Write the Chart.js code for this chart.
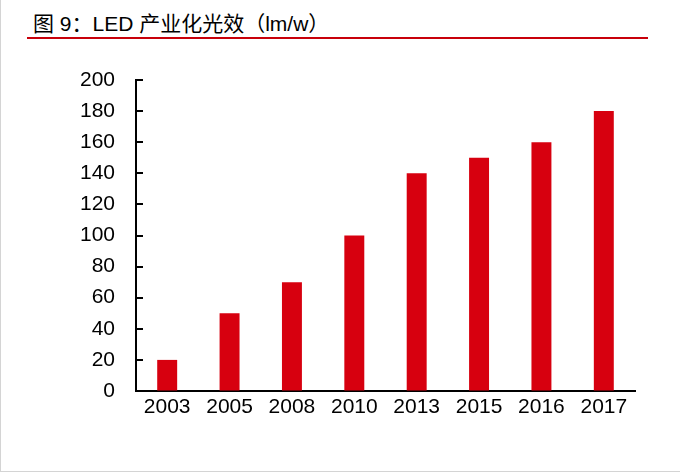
<!DOCTYPE html>
<html>
<head>
<meta charset="utf-8">
<script src="https://cdn.jsdelivr.net/npm/chart.js@4"></script>
<style>
    body { margin: 0; background: #fff; }
    #wrap { position: relative; width: 680px; height: 473px; overflow: hidden; }
    #frame { position: absolute; left: 0; top: 0; width: 679px; height: 471px; border-left: 1px solid #d4d4d4; border-bottom: 1px solid #d4d4d4; }
    #title { position: absolute; left: 33px; top: 13px; font: 21px/21px "Liberation Sans", "Noto Sans CJK SC", sans-serif; color: #000; white-space: nowrap; }
    #rule { position: absolute; left: 27px; top: 37px; width: 621px; height: 2px; background: #c8000a; }
    #box { position: absolute; left: 0; top: 0; width: 680px; height: 473px; }
</style>
</head>
<body>
<div id="wrap">
    <div id="frame"></div>
    <div id="title">图 9：LED 产业化光效（lm/w）</div>
    <div id="rule"></div>
    <div id="box"><canvas id="ledChart"></canvas></div>
</div>
<script>
var years = ['2003', '2005', '2008', '2010', '2013', '2015', '2016', '2017'];
var efficacy = [20, 50, 70, 100, 140, 150, 160, 180];
var yTicks = [0, 20, 40, 60, 80, 100, 120, 140, 160, 180, 200];

// short tick marks pointing into the plot, like the original
var innerTicks = {
    id: 'innerTicks',
    afterDatasetsDraw: function(chart) {
        var y = chart.scales.y;
        var ctx = chart.ctx;
        ctx.save();
        ctx.strokeStyle = '#000';
        ctx.lineWidth = 2;
        y.ticks.forEach(function(t, i) {
            var py = Math.round(y.getPixelForTick(i));
            ctx.beginPath();
            ctx.moveTo(y.right, py);
            ctx.lineTo(y.right + 7, py);
            ctx.stroke();
        });
        ctx.restore();
    }
};

var ledChart = new Chart(document.getElementById('ledChart'), {
    type: 'bar',
    data: {
        labels: years,
        datasets: [{
            data: efficacy,
            backgroundColor: '#d7000f',
            barPercentage: 0.32,
            categoryPercentage: 1
        }]
    },
    options: {
        responsive: true,
        maintainAspectRatio: false,
        animation: false,
        layout: { padding: { left: 0, right: 45, top: 80, bottom: 0 } },
        plugins: {
            legend: { display: false },
            tooltip: { enabled: false }
        },
        scales: {
            x: {
                grid: { display: true, drawOnChartArea: false, drawTicks: false },
                border: { color: '#000', width: 2 },
                ticks: { color: '#000', padding: 4, font: { family: 'Liberation Sans', size: 21 } },
                afterFit: function(s) { s.height = 82; }
            },
            y: {
                min: 0,
                max: 200,
                grid: { display: true, drawOnChartArea: false, drawTicks: false },
                border: { color: '#000', width: 2 },
                afterBuildTicks: function(s) {
                    s.ticks = yTicks.map(function(v) { return { value: v }; });
                },
                ticks: { color: '#000', padding: 21, font: { family: 'Liberation Sans', size: 21 } },
                afterFit: function(s) { s.width = 136; }
            }
        }
    },
    plugins: [innerTicks]
});
</script>
</body>
</html>
